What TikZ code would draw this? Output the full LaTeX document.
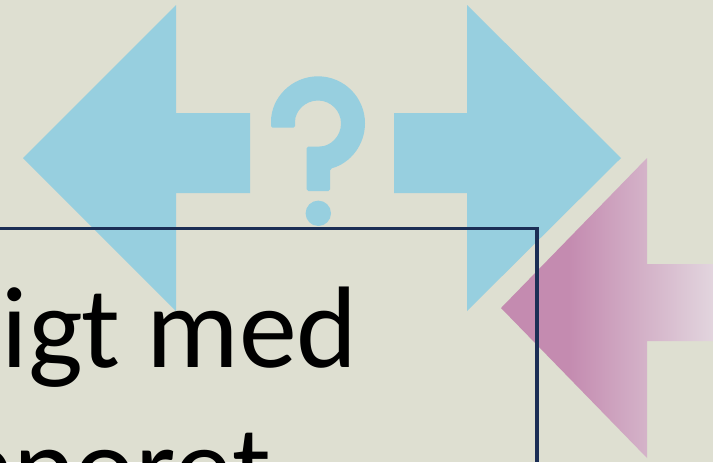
\documentclass[tikz,border=0pt]{standalone}
\usepackage{fontspec}
\setmainfont{Carlito}
\definecolor{bgc}{HTML}{DEDFD1}
\definecolor{bluec}{HTML}{97CFDF}
\definecolor{linec}{HTML}{1B2E55}
\definecolor{pinka}{HTML}{C48BB0}
\definecolor{pinkb}{HTML}{E2D5DE}
\pgfdeclarehorizontalshading{pinkfade}{100bp}{color(0bp)=(pinka); color(41bp)=(pinka); color(75bp)=(pinkb); color(100bp)=(pinkb)}
\tikzset{
  x=0.75pt,y=-0.75pt,
  arrowshape/.style={fill=bluec,draw=none},
  framebox/.style={draw=linec,line width=2.4pt},
  bigtext/.style={inner sep=0pt,outer sep=0pt,anchor=base west,font=\fontsize{87}{87}\selectfont,text=black}
}
\begin{document}
\begin{tikzpicture}
\useasboundingbox (0,0) rectangle (713,462);
\clip (0,0) rectangle (713,462);
\fill[bgc] (0,0) rectangle (713,462);
\fill[arrowshape] (23,158) -- (176,5) -- (176,113) -- (250,113) -- (250,193) -- (176,193) -- (176,311) -- cycle;
\fill[arrowshape] (621,158) -- (467,5) -- (467,113) -- (394,113) -- (394,193) -- (467,193) -- (467,311) -- cycle;
\path[shading=pinkfade] (501,308) -- (647,158) -- (647,264) -- (713,264) -- (713,341) -- (647,341) -- (647,458) -- cycle;
\fill[arrowshape,rounded corners=1.2pt] (271,123.3) arc[start angle=180,end angle=-75,x radius=47,y radius=-47]
  -- (330,191) -- (306.7,191) -- (306.7,146.5) -- (318,146.5)
  arc[start angle=-90,end angle=180,x radius=23,y radius=-23]
  -- (295,127.7) -- (271,127.7) -- cycle;
\fill[arrowshape] (318.3,213.3) circle[radius=12.7];
\node[bigtext] (line1) at (2,367) {igt med};
\node[bigtext] (line2) at (-47,506) {pporet};
\coordinate (fa) at (0,228.5);
\coordinate (fb) at (537,228.5);
\coordinate (fc) at (537,462);
\draw[framebox] (fa) -- (fb) -- (fc);
\end{tikzpicture}
\end{document}
